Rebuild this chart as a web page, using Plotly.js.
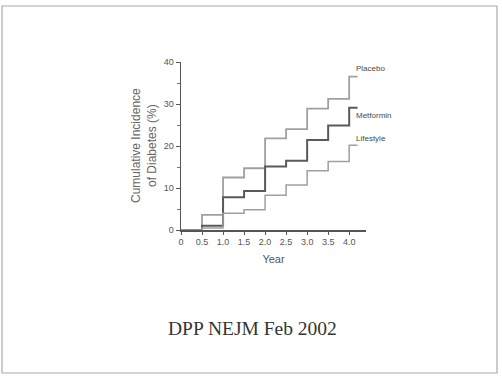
<!DOCTYPE html>
<html>
<head>
<meta charset="utf-8">
<script src="https://cdn.plot.ly/plotly-3.0.1.min.js"></script>
<style>
  html, body { margin: 0; padding: 0; background: #fff; }
  #chart { width: 502px; height: 376px; }
</style>
</head>
<body>
<div id="chart"></div>
<script>
// Data
var years = [0, 0.5, 1.0, 1.5, 2.0, 2.5, 3.0, 3.5, 4.0, 4.2];
var placebo   = [0, 3.6, 12.5, 14.7, 21.8, 24.0, 28.9, 31.2, 36.5, 36.5];
var metformin = [0, 1.0, 7.8, 9.3, 15.1, 16.5, 21.4, 24.9, 29.1, 29.1];
var lifestyle = [0, 0.5, 4.0, 4.8, 8.3, 10.7, 14.1, 16.3, 20.2, 20.2];
var seriesNames = ["Placebo", "Metformin", "Lifestyle"];
var xTickVals = [0, 0.5, 1.0, 1.5, 2.0, 2.5, 3.0, 3.5, 4.0];
var xTickText = ["0", "0.5", "1.0", "1.5", "2.0", "2.5", "3.0", "3.5", "4.0"];
var yTickVals = [0, 10, 20, 30, 40];

var sans = "Liberation Sans, Arial, sans-serif";
var traces = [
  {x: years, y: placebo, name: seriesNames[0], mode: "lines", line: {shape: "hv", color: "#a0a0a0", width: 1.8}},
  {x: years, y: metformin, name: seriesNames[1], mode: "lines", line: {shape: "hv", color: "#5a5a5a", width: 2}},
  {x: years, y: lifestyle, name: seriesNames[2], mode: "lines", line: {shape: "hv", color: "#a0a0a0", width: 1.5}}
];

var L = 181, R = 136, T = 62, B = 146;
var pw = 502 - L - R, ph = 376 - T - B;
function px(v) { return (v - L) / pw; }
function py(v) { return (376 - B - v) / ph; }

var labelFont = {family: sans, size: 8, color: "#4a4a4a"};
var layout = {
  width: 502, height: 376,
  margin: {l: L, r: R, t: T, b: B, pad: 0},
  paper_bgcolor: "#fff", plot_bgcolor: "#fff",
  showlegend: false,
  font: {family: sans, color: "#555", size: 9},
  xaxis: {
    range: [0, 4.4], showgrid: false, zeroline: false,
    showline: true, linecolor: "#555", linewidth: 1.5,
    tickmode: "array", tickvals: xTickVals, ticktext: xTickText,
    ticks: "outside", ticklen: 3, tickwidth: 1, tickcolor: "#555",
    tickfont: {family: sans, size: 9, color: "#555"},
    title: {text: "Year", font: {family: sans, size: 11, color: "#555"}, standoff: 9}
  },
  yaxis: {
    range: [0, 40], showgrid: false, zeroline: false,
    showline: true, linecolor: "#555", linewidth: 1.5,
    tickmode: "array", tickvals: yTickVals,
    ticks: "outside", ticklen: 4, tickwidth: 1, tickcolor: "#555",
    minor: {dtick: 5, ticks: "outside", ticklen: 3, tickcolor: "#777"},
    tickfont: {family: sans, size: 9, color: "#555"}
  },
  annotations: [
    {xref: "x", yref: "y", x: 4.12, y: 38.4, text: seriesNames[0], showarrow: false, xanchor: "left", yanchor: "middle", font: labelFont},
    {xref: "x", yref: "y", x: 4.12, y: 27.2, text: seriesNames[1], showarrow: false, xanchor: "left", yanchor: "middle", font: labelFont},
    {xref: "x", yref: "y", x: 4.12, y: 21.9, text: seriesNames[2], showarrow: false, xanchor: "left", yanchor: "middle", font: labelFont},
    {xref: "paper", yref: "paper", x: px(144), y: py(146), text: "Cumulative Incidence<br>of Diabetes (%)", textangle: -90, showarrow: false, xanchor: "center", yanchor: "middle", font: {family: sans, size: 12, color: "#666"}},
    {xref: "paper", yref: "paper", x: px(252), y: py(328), text: "DPP NEJM Feb 2002", showarrow: false, xanchor: "center", yanchor: "middle", font: {family: "Liberation Serif, Times New Roman, serif", size: 19.5, color: "#333"}}
  ],
  shapes: [
    {type: "rect", xref: "paper", yref: "paper", x0: px(2), x1: px(497), y0: py(373), y1: py(6), line: {color: "#aaa", width: 1.2}, fillcolor: "rgba(0,0,0,0)", layer: "below"}
  ]
};

Plotly.newPlot("chart", traces, layout, {displayModeBar: false, staticPlot: true});
</script>
</body>
</html>
